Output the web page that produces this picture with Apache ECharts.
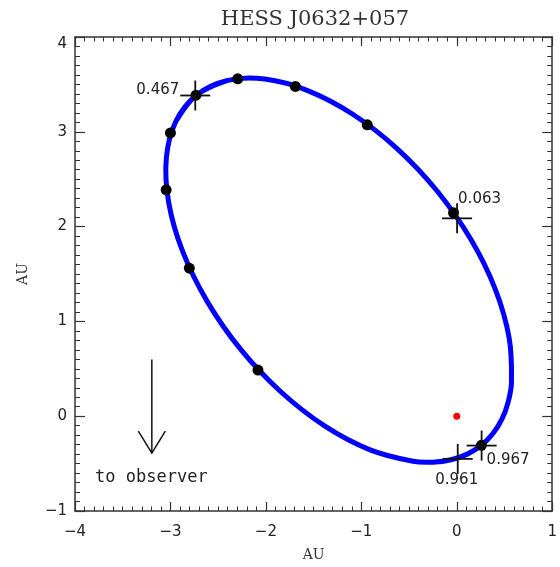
<!DOCTYPE html>
<html>
<head>
<meta charset="utf-8">
<script src="https://cdn.jsdelivr.net/npm/echarts@6/dist/echarts.min.js"></script>
<style>
  html, body { margin: 0; padding: 0; background: #fff; }
  #chart { width: 560px; height: 567px; }
</style>
</head>
<body>
<div id="chart"></div>
<script>
// ---- data (AU) ----
const titleText = 'HESS J0632+057';
const axisName = 'AU';
const xTicks = { min: -4, max: 1, step: 1 };
const yTicks = { min: -1, max: 4, step: 1 };

// orbit trace (x, y) in AU
const orbit = [
  [-2.944, 3.109], [-2.728, 3.387], [-2.410, 3.540], [-2.012, 3.556],
  [-1.562, 3.435], [-1.089, 3.185], [-0.626, 2.823], [-0.204, 2.373],
  [0.147, 1.866], [0.404, 1.338], [0.549, 0.823], [0.573, 0.357],
  [0.539, 0.152], [0.474, -0.029], [0.379, -0.183], [0.258, -0.307],
  [0.110, -0.400], [-0.060, -0.460], [-0.250, -0.485], [-0.458, -0.476],
  [-0.908, -0.355], [-1.381, -0.105], [-1.844, 0.258], [-2.266, 0.707],
  [-2.617, 1.214], [-2.874, 1.743], [-3.019, 2.257], [-3.043, 2.723],
  [-2.944, 3.109], [-2.728, 3.387], [-2.410, 3.540]
];

// black phase dots
const dotX = [-2.732, -2.295, -1.691, -0.938, -0.034, 0.258, -2.083, -2.802, -3.045, -3.000];
const dotY = [3.386, 3.559, 3.479, 3.074, 2.146, -0.307, 0.487, 1.561, 2.388, 2.988];

// marked phases (crosses)
const markLabels = ['0.467', '0.063', '0.961', '0.967'];
const markX = [-2.740, 0.003, 0.010, 0.260];
const markY = [3.383, 2.087, -0.450, -0.310];

// Be star at the origin
const star = [0, 0];

// observer arrow: x, top y, tip y ; label under it
const arrowX = -3.195;
const arrowTopY = 0.598;
const arrowTipY = -0.389;
const observerText = 'to observer';
const observerTextAt = [-3.20, -0.648];

// ---- styles ----
const frameColor = '#333';
const labelPlace = {            // pixel offsets of phase labels from cross centre
  '0.467': { dx: -16, dy: -5, align: 'right' },
  '0.063': { dx: 1, dy: -19, align: 'left' },
  '0.961': { dx: -1, dy: 21, align: 'center' },
  '0.967': { dx: 5, dy: 15, align: 'left' }
};
const numFont = 'DejaVu Sans';

const minusFmt = v => String(v).replace('-', '\u2212');

function axisCommon(range, opts) {
  return Object.assign({
    type: 'value',
    min: range.min, max: range.max, interval: range.step,
    axisLine: { show: true, onZero: false, lineStyle: { color: frameColor, width: 1.5 } },
    axisTick: { show: true, inside: true, length: 9, lineStyle: { color: frameColor, width: 1.2 } },
    minorTick: { show: true, splitNumber: 10, length: 4.5, lineStyle: { color: frameColor, width: 1 } },
    splitLine: { show: false },
    minorSplitLine: { show: false }
  }, opts);
}

const chart = echarts.init(document.getElementById('chart'), null, { renderer: 'canvas' });

const option = {
  animation: false,
  backgroundColor: '#fff',
  graphic: [{
    type: 'text', x: 315, y: 20, silent: true,
    style: {
      text: titleText, align: 'center', verticalAlign: 'middle',
      fontFamily: 'DejaVu Serif', fontSize: 21, fontWeight: 'normal', fill: '#333'
    }
  }],
  grid: { left: 75, top: 37, width: 480, height: 481, containLabel: false },
  xAxis: [
    axisCommon(xTicks, {
      position: 'bottom',
      axisLabel: { formatter: minusFmt, fontFamily: numFont, fontSize: 15, color: '#222', margin: 14 },
      name: axisName, nameLocation: 'middle', nameGap: 37,
      nameTextStyle: { fontFamily: 'DejaVu Serif', fontSize: 14, color: '#333' }
    }),
    axisCommon(xTicks, { position: 'top', axisLabel: { show: false } })
  ],
  yAxis: [
    axisCommon(yTicks, {
      position: 'left',
      axisTick: { show: true, inside: true, length: 10, lineStyle: { color: frameColor, width: 1.2 } },
      minorTick: { show: true, splitNumber: 10, length: 5, lineStyle: { color: frameColor, width: 1 } },
      axisLabel: { formatter: minusFmt, fontFamily: numFont, fontSize: 15, color: '#222', margin: 8,
                   verticalAlignMaxLabel: 'top' },
      name: axisName, nameLocation: 'middle', nameGap: 45, nameRotate: 90,
      nameTextStyle: { fontFamily: 'DejaVu Serif', fontSize: 14, color: '#333' }
    }),
    axisCommon(yTicks, {
      position: 'right',
      axisTick: { show: true, inside: true, length: 10, lineStyle: { color: frameColor, width: 1.2 } },
      minorTick: { show: true, splitNumber: 10, length: 5, lineStyle: { color: frameColor, width: 1 } },
      axisLabel: { show: false }
    })
  ],
  series: [
    {
      // orbit drawn as one smoothed polyline through the library's coordinate system
      type: 'custom', z: 2, silent: true,
      data: [[orbit[0][0], orbit[0][1]]],
      renderItem: function (params, api) {
        const pts = orbit.map(p => api.coord(p));
        return {
          type: 'polyline',
          shape: { points: pts, smooth: 0.35 },
          style: { fill: 'none', stroke: '#0000ff', lineWidth: 5, lineJoin: 'round', lineCap: 'round' }
        };
      }
    },
    {
      type: 'scatter', data: dotX.map((x, i) => [x, dotY[i]]), symbol: 'circle', symbolSize: 11,
      itemStyle: { color: '#000', opacity: 1 }, silent: true, z: 3
    },
    {
      type: 'scatter', data: [star], symbol: 'circle', symbolSize: 7,
      itemStyle: { color: '#ff0000', opacity: 1 }, silent: true, z: 3
    },
    {
      type: 'custom', z: 4, silent: true,
      data: markX.map((x, i) => [x, markY[i]]),
      renderItem: function (params, api) {
        const p = api.coord([api.value(0), api.value(1)]);
        const h = 15;
        const lab = markLabels[params.dataIndex];
        const lp = labelPlace[lab];
        const st = { stroke: '#111', lineWidth: 1.8 };
        return {
          type: 'group',
          children: [
            { type: 'line', shape: { x1: p[0] - h, y1: p[1], x2: p[0] + h, y2: p[1] }, style: st },
            { type: 'line', shape: { x1: p[0], y1: p[1] - h, x2: p[0], y2: p[1] + h }, style: st },
            { type: 'text', x: p[0] + lp.dx, y: p[1] + lp.dy,
              style: { text: lab, align: lp.align, verticalAlign: 'middle',
                       fontFamily: numFont, fontSize: 15, fill: '#222' } }
          ]
        };
      }
    },
    {
      type: 'custom', z: 4, silent: true,
      data: [[arrowX, arrowTopY, arrowTipY]],
      renderItem: function (params, api) {
        const top = api.coord([api.value(0), api.value(1)]);
        const tip = api.coord([api.value(0), api.value(2)]);
        const t = api.coord(observerTextAt);
        const st = { stroke: '#111', lineWidth: 1.5 };
        return {
          type: 'group',
          children: [
            { type: 'line', shape: { x1: top[0], y1: top[1], x2: tip[0], y2: tip[1] }, style: st },
            { type: 'polyline', shape: { points: [[tip[0] - 13.5, tip[1] - 22], [tip[0], tip[1]], [tip[0] + 13.5, tip[1] - 22]] },
              style: Object.assign({ fill: 'none' }, st) },
            { type: 'text', x: t[0], y: t[1],
              style: { text: observerText, align: 'center', verticalAlign: 'middle',
                       fontFamily: 'DejaVu Sans Mono', fontSize: 17, fill: '#222' } }
          ]
        };
      }
    }
  ]
};

chart.setOption(option);
</script>
</body>
</html>
